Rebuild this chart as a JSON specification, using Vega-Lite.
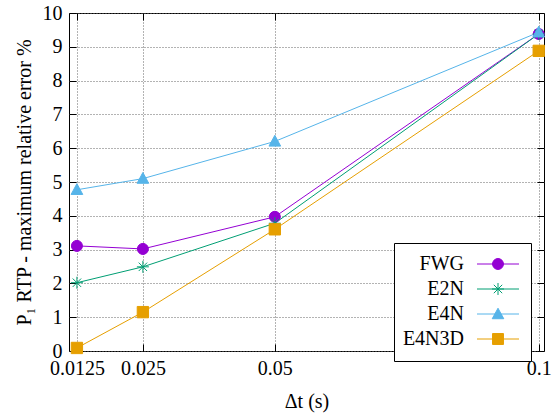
{
  "$schema": "https://vega.github.io/schema/vega-lite/v6.json",
  "width": 475,
  "height": 338,
  "autosize": {"type": "none"},
  "padding": {"left": 69, "top": 13, "right": 9, "bottom": 66},
  "background": "white",
  "config": {
    "font": "Liberation Serif",
    "view": {"stroke": "black", "strokeWidth": 1},
    "axis": {
      "labelFont": "Liberation Serif",
      "labelFontSize": 20,
      "labelColor": "black",
      "titleFont": "Liberation Serif",
      "titleFontSize": 20,
      "titleFontWeight": "normal",
      "titleColor": "black",
      "gridColor": "#666666",
      "gridDash": [1, 2],
      "gridWidth": 1,
      "domain": false,
      "tickColor": "black",
      "tickSize": -7,
      "tickWidth": 1
    }
  },
  "data": {
    "values": [
      {"series": "FWG", "s": "FWG", "dt": 0.0125, "err": 3.11},
      {"series": "FWG", "s": "FWG", "dt": 0.025, "err": 3.02},
      {"series": "FWG", "s": "FWG", "dt": 0.05, "err": 3.97},
      {"series": "FWG", "s": "FWG", "dt": 0.1, "err": 9.38},
      {"series": "E2N", "s": "E2N", "dt": 0.0125, "err": 2.02},
      {"series": "E2N", "s": "E2N", "dt": 0.025, "err": 2.49},
      {"series": "E2N", "s": "E2N", "dt": 0.05, "err": 3.78},
      {"series": "E2N", "s": "E2N", "dt": 0.1, "err": 9.38},
      {"series": "E4N", "s": "E4N", "dt": 0.0125, "err": 4.77},
      {"series": "E4N", "s": "E4N", "dt": 0.025, "err": 5.1},
      {"series": "E4N", "s": "E4N", "dt": 0.05, "err": 6.2},
      {"series": "E4N", "s": "E4N", "dt": 0.1, "err": 9.43},
      {"series": "E4N3D", "s": "E4N3D", "dt": 0.0125, "err": 0.09},
      {"series": "E4N3D", "s": "E4N3D", "dt": 0.025, "err": 1.15},
      {"series": "E4N3D", "s": "E4N3D", "dt": 0.05, "err": 3.6},
      {"series": "E4N3D", "s": "E4N3D", "dt": 0.1, "err": 8.88}
    ]
  },
  "resolve": {"axis": {"x": "independent", "y": "independent"}},
  "layer": [
    {
      "mark": {"type": "line", "strokeWidth": 1},
      "encoding": {
        "x": {
          "field": "dt",
          "type": "quantitative",
          "scale": {"domain": [0.011, 0.101], "nice": false, "zero": false},
          "axis": {
            "values": [0.0125, 0.025, 0.05, 0.1],
            "format": ".4~f",
            "title": "Δt (s)",
            "grid": true,
            "labelPadding": 14,
            "titlePadding": 13
          }
        },
        "y": {
          "field": "err",
          "type": "quantitative",
          "scale": {"domain": [0, 10], "nice": false},
          "axis": {
            "values": [0, 1, 2, 3, 4, 5, 6, 7, 8, 9, 10],
            "format": "d",
            "title": "P₁ RTP - maximum relative error %",
            "grid": true,
            "labelPadding": 14,
            "titlePadding": 8
          }
        },
        "color": {
          "field": "series",
          "type": "nominal",
          "scale": {
            "domain": ["FWG", "E2N", "E4N", "E4N3D"],
            "range": ["#9400d3", "#009e73", "#56b4e9", "#e69f00"]
          },
          "legend": {
            "title": null,
            "orient": "none",
            "legendX": 325,
            "legendY": 230,
            "strokeColor": "black",
            "fillColor": "white",
            "padding": 10,
            "rowPadding": 1,
            "symbolSize": 441,
            "symbolStrokeWidth": 1,
            "symbolOffset": 83,
            "labelAlign": "right",
            "labelOffset": -45,
            "labelFont": "Liberation Serif",
            "labelFontSize": 20,
            "labelColor": "black",
            "labelLimit": 300,
            "encode": {
              "symbols": {
                "update": {
                  "shape": {"signal": "datum.value === 'FWG' ? 'M-2,0L2,0M0.52,0A0.52,0.52 0 1 1 -0.52,0A0.52,0.52 0 1 1 0.52,0ZM0,0.9M0,-0.9' : datum.value === 'E2N' ? 'M-2,0L2,0M-0.57,0L0.57,0M0,-0.57L0,0.57M-0.4,-0.4L0.4,0.4M-0.4,0.4L0.4,-0.4M0,0.9M0,-0.9' : datum.value === 'E4N' ? 'M-2,0L2,0M0,-0.55L0.55,0.45L-0.55,0.45ZM0,0.9M0,-0.9' : 'M-2,0L2,0M-0.52,-0.52L0.52,-0.52L0.52,0.52L-0.52,0.52ZM0,0.9M0,-0.9'"},
                  "fill": {"signal": "scale('color', datum.value)"},
                  "stroke": {"signal": "scale('color', datum.value)"},
                  "strokeWidth": {"value": 1},
                  "opacity": {"value": 1},
                  "fillOpacity": {"value": 1},
                  "strokeOpacity": {"value": 1}
                }
              }
            }
          }
        }
      }
    },
    {
      "mark": {"type": "point", "filled": true, "opacity": 1, "strokeWidth": 1},
      "encoding": {
        "x": {"field": "dt", "type": "quantitative", "axis": null},
        "y": {"field": "err", "type": "quantitative", "axis": null},
        "fill": {
          "field": "s",
          "type": "nominal",
          "scale": {"range": ["#009e73", "#56b4e9", "#e69f00", "#9400d3"]},
          "legend": null
        },
        "stroke": {
          "field": "s",
          "type": "nominal",
          "scale": {"range": ["#009e73", "#56b4e9", "#e69f00", "#9400d3"]},
          "legend": null
        },
        "shape": {
          "field": "s",
          "type": "nominal",
          "scale": {
            "range": [
              "M-1,0H1M0,-1V1M-0.7,-0.7L0.7,0.7M-0.7,0.7L0.7,-0.7",
              "M0,-1.05L1,0.8H-1Z",
              "M-1,-1H1V1H-1Z",
              "M1,0A1,1 0 1 1 -1,0A1,1 0 1 1 1,0Z"
            ]
          },
          "legend": null
        },
        "size": {
          "field": "s",
          "type": "nominal",
          "scale": {"range": [144, 121, 121, 110]},
          "legend": null
        }
      }
    },
    {
      "mark": {"type": "point", "opacity": 0},
      "encoding": {
        "x": {
          "field": "dt",
          "type": "quantitative",
          "axis": {
            "orient": "top",
            "values": [0.0125, 0.025, 0.05, 0.1],
            "labels": false,
            "grid": false,
            "title": null
          }
        },
        "y": {
          "field": "err",
          "type": "quantitative",
          "axis": {
            "orient": "right",
            "values": [0, 1, 2, 3, 4, 5, 6, 7, 8, 9, 10],
            "labels": false,
            "grid": false,
            "title": null
          }
        }
      }
    }
  ]
}
